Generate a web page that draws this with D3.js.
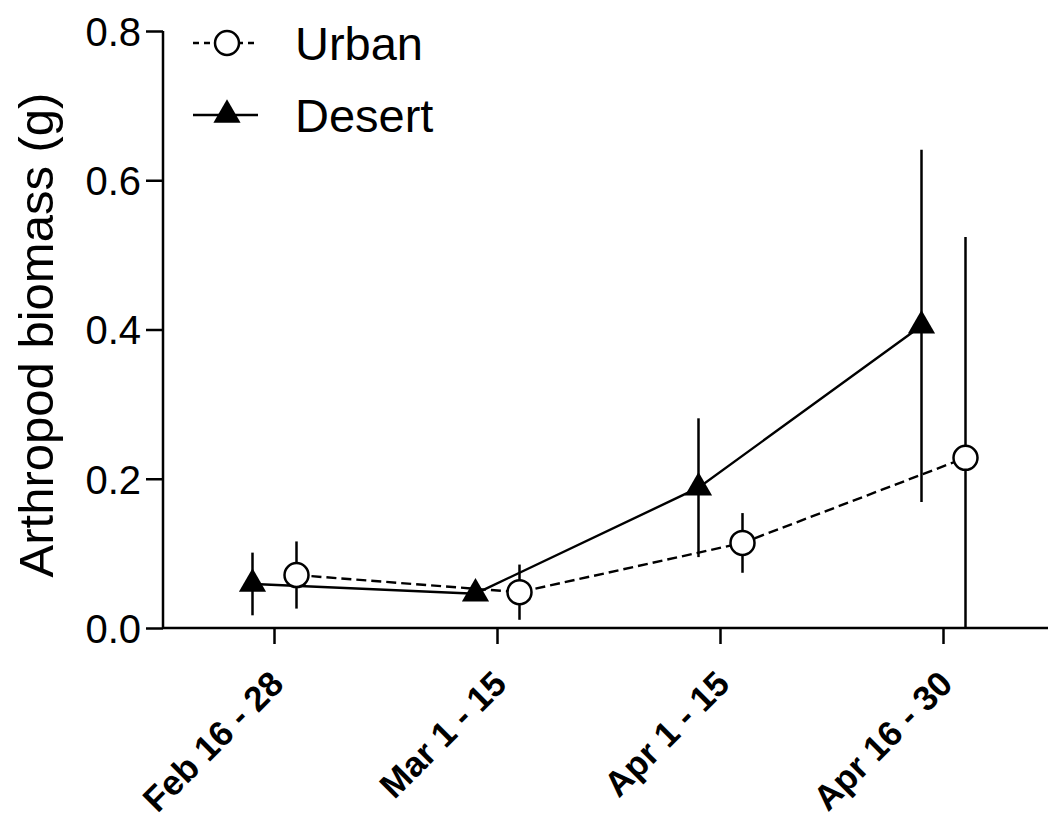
<!DOCTYPE html>
<html>
<head>
<meta charset="utf-8">
<script src="https://cdn.jsdelivr.net/npm/d3@7"></script>
<style>
  html, body { margin: 0; padding: 0; background: #fff; }
  svg { display: block; }
  text { font-family: "Liberation Sans", Arial, Helvetica, sans-serif; fill: #000; }
</style>
</head>
<body>
<svg id="chart" width="1048" height="823"></svg>
<script>
const categories = ["Feb 16 - 28", "Mar 1 - 15", "Apr 1 - 15", "Apr 16 - 30"];
const urbanValues = [0.071, 0.048, 0.114, 0.228];
const urbanErrors = [0.045, 0.037, 0.040, 0.296];
const desertValues = [0.059, 0.046, 0.188, 0.405];
const desertErrors = [0.042, 0.005, 0.093, 0.236];
const yTicks = [0.0, 0.2, 0.4, 0.6, 0.8];
const seriesNames = ["Urban", "Desert"];
const yLabel = "Arthropod biomass (g)";

const svg = d3.select("#chart");
const plotLeft = 163, plotRight = 1055, plotTop = 31, plotBottom = 628;

const x = d3.scaleBand().domain(categories).range([plotLeft, plotRight]).padding(0);
const cx = c => x(c) + x.bandwidth() / 2;
const y = d3.scaleLinear().domain([0, 0.8]).range([plotBottom, plotTop]);

const offset = { Urban: 22, Desert: -22 };
const urban = categories.map((c, i) => ({ c, v: urbanValues[i], e: urbanErrors[i] }));
const desert = categories.map((c, i) => ({ c, v: desertValues[i], e: desertErrors[i] }));

// Axes
const yAxis = d3.axisLeft(y).tickValues(yTicks).tickFormat(d3.format(".1f")).tickSize(17).tickPadding(5);
const gy = svg.append("g").attr("transform", `translate(${plotLeft},0)`).call(yAxis);
gy.select(".domain").attr("stroke", "#000").attr("stroke-width", 2.5).attr("d", `M0,${plotTop}V${plotBottom}`);
gy.selectAll(".tick line").attr("stroke", "#000").attr("stroke-width", 2.5);
gy.selectAll(".tick text").style("font-size", "40px").attr("dy", "0.36em")
  .style("font-family", "'Liberation Sans', Arial, sans-serif").attr("fill", "#000");

const xAxis = d3.axisBottom(x).tickSize(16).tickFormat("");
const gx = svg.append("g").attr("transform", `translate(0,${plotBottom})`).call(xAxis);
gx.select(".domain").attr("stroke", "#000").attr("stroke-width", 2.5).attr("d", `M${plotLeft},0H1048`);
gx.selectAll(".tick line").attr("stroke", "#000").attr("stroke-width", 2.5);

// Rotated category labels
svg.append("g").selectAll("text").data(categories).join("text")
  .attr("transform", d => `translate(${cx(d) + 11},${686}) rotate(-45)`)
  .attr("text-anchor", "end")
  .style("font-size", "35px")
  .style("font-weight", "bold")
  .text(d => d);

// Y label
svg.append("text")
  .attr("transform", `translate(53,${(95 + 575) / 2}) rotate(-90)`)
  .attr("text-anchor", "middle")
  .style("font-size", "49px")
  .text(yLabel);

// Lines
const lineU = d3.line().x(d => cx(d.c) + offset.Urban).y(d => y(d.v));
const lineD = d3.line().x(d => cx(d.c) + offset.Desert).y(d => y(d.v));
svg.append("path").datum(urban).attr("d", lineU).attr("fill", "none")
  .attr("stroke", "#000").attr("stroke-width", 2.4).attr("stroke-dasharray", "10,5");
svg.append("path").datum(desert).attr("d", lineD).attr("fill", "none")
  .attr("stroke", "#000").attr("stroke-width", 2.4);

// Error bars
function errBars(data, name) {
  svg.append("g").selectAll("line").data(data).join("line")
    .attr("x1", d => cx(d.c) + offset[name]).attr("x2", d => cx(d.c) + offset[name])
    .attr("y1", d => y(d.v + d.e)).attr("y2", d => y(Math.max(0, d.v - d.e)))
    .attr("stroke", "#000").attr("stroke-width", 2.5);
}
errBars(desert, "Desert");
errBars(urban, "Urban");

// Markers
const tri = d3.symbol().type(d3.symbolTriangle).size(320);
svg.append("g").selectAll("path").data(desert).join("path")
  .attr("d", tri)
  .attr("transform", d => `translate(${cx(d.c) + offset.Desert},${y(d.v)})`)
  .attr("fill", "#000");
svg.append("g").selectAll("circle").data(urban).join("circle")
  .attr("cx", d => cx(d.c) + offset.Urban).attr("cy", d => y(d.v)).attr("r", 12)
  .attr("fill", "#fff").attr("stroke", "#000").attr("stroke-width", 2.5);

// Legend
const lg = svg.append("g");
const legendRows = [
  { name: seriesNames[0], ly: 43, tb: 60 },
  { name: seriesNames[1], ly: 115, tb: 132 }
];
legendRows.forEach(r => {
  const isU = r.name === "Urban";
  lg.append("line").attr("x1", 193).attr("x2", 258).attr("y1", r.ly).attr("y2", r.ly)
    .attr("stroke", "#000").attr("stroke-width", 2.4)
    .attr("stroke-dasharray", isU ? "6,5" : null);
  if (isU) {
    lg.append("circle").attr("cx", 227).attr("cy", r.ly).attr("r", 12)
      .attr("fill", "#fff").attr("stroke", "#000").attr("stroke-width", 2.5);
  } else {
    lg.append("path").attr("d", tri).attr("transform", `translate(227,${r.ly})`).attr("fill", "#000");
  }
  lg.append("text").attr("x", 295).attr("y", r.tb).style("font-size", "47px").text(r.name);
});
</script>
</body>
</html>
